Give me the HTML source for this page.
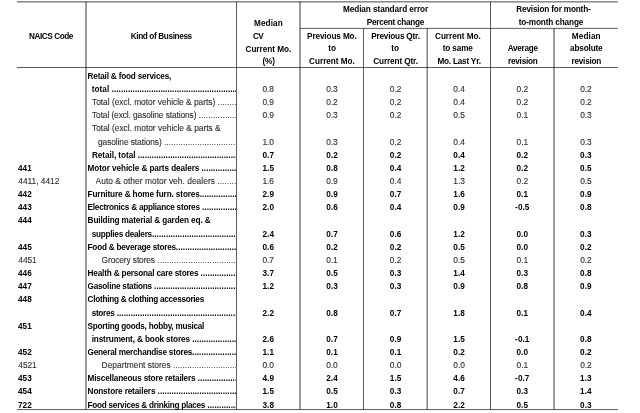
<!DOCTYPE html>
<html lang="en"><head><meta charset="utf-8"><title>Table</title>
<style>
html,body{margin:0;padding:0;background:#fff;}
body{width:640px;height:413px;position:relative;overflow:hidden;font-family:"Liberation Sans",sans-serif;color:#000;}
.t{position:absolute;white-space:nowrap;line-height:12.0px;height:12.0px;}
.b{font-weight:bold;font-size:8.2px;}
.r{font-weight:normal;font-size:8.4px;-webkit-text-stroke:0.1px #2b2b2b;}
.ld{overflow:hidden;}
.d{letter-spacing:0.05px;}
.r .d{-webkit-text-stroke:0;color:#333;}
svg{position:absolute;left:0;top:0;}
#txt{position:absolute;left:0;top:0;width:640px;height:413px;will-change:transform;}
</style></head><body>
<svg width="640" height="413" viewBox="0 0 640 413">
<line x1="16.9" y1="1.87" x2="617.8" y2="1.87" stroke="#000" stroke-width="0.72"/>
<line x1="16.9" y1="67.5" x2="617.8" y2="67.5" stroke="#000" stroke-width="0.64"/>
<line x1="16.9" y1="409.55" x2="617.8" y2="409.55" stroke="#000" stroke-width="0.64"/>
<line x1="300.0" y1="28.4" x2="617.8" y2="28.4" stroke="#000" stroke-width="0.64"/>
<line x1="86.0" y1="1.87" x2="86.0" y2="409.55" stroke="#000" stroke-width="0.8"/>
<line x1="236.5" y1="1.87" x2="236.5" y2="409.55" stroke="#000" stroke-width="0.64"/>
<line x1="300.0" y1="1.87" x2="300.0" y2="409.55" stroke="#000" stroke-width="0.8"/>
<line x1="363.5" y1="28.4" x2="363.5" y2="409.55" stroke="#000" stroke-width="0.64"/>
<line x1="427.2" y1="28.4" x2="427.2" y2="409.55" stroke="#000" stroke-width="0.72"/>
<line x1="490.5" y1="1.87" x2="490.5" y2="409.55" stroke="#000" stroke-width="0.64"/>
<line x1="554.0" y1="28.4" x2="554.0" y2="409.55" stroke="#000" stroke-width="0.8"/>
</svg>
<div id="txt">
<div class="t b" style="left:28.93px;top:31.00px;letter-spacing:-0.416px;">NAICS Code</div>
<div class="t b" style="left:130.68px;top:31.00px;letter-spacing:-0.359px;">Kind of Business</div>
<div class="t b" style="left:254.03px;top:18.00px;letter-spacing:0.114px;">Median</div>
<div class="t b" style="left:253.02px;top:31.00px;letter-spacing:-0.614px;">CV</div>
<div class="t b" style="left:245.51px;top:44.00px;letter-spacing:-0.020px;">Current Mo.</div>
<div class="t b" style="left:262.47px;top:56.00px;letter-spacing:-0.163px;">(%)</div>
<div class="t b" style="left:342.96px;top:4.00px;letter-spacing:-0.062px;">Median standard error</div>
<div class="t b" style="left:366.77px;top:17.00px;letter-spacing:-0.258px;">Percent change</div>
<div class="t b" style="left:307.09px;top:31.00px;letter-spacing:-0.117px;">Previous Mo.</div>
<div class="t b" style="left:328.13px;top:43.00px;letter-spacing:0.096px;">to</div>
<div class="t b" style="left:309.11px;top:56.00px;letter-spacing:-0.020px;">Current Mo.</div>
<div class="t b" style="left:371.19px;top:31.00px;letter-spacing:-0.186px;">Previous Qtr.</div>
<div class="t b" style="left:391.23px;top:43.00px;letter-spacing:0.096px;">to</div>
<div class="t b" style="left:373.21px;top:56.00px;letter-spacing:-0.104px;">Current Qtr.</div>
<div class="t b" style="left:435.01px;top:31.00px;letter-spacing:-0.020px;">Current Mo.</div>
<div class="t b" style="left:442.79px;top:43.00px;letter-spacing:-0.138px;">to same</div>
<div class="t b" style="left:437.39px;top:56.00px;letter-spacing:-0.204px;">Mo. Last Yr.</div>
<div class="t b" style="left:516.32px;top:4.00px;letter-spacing:-0.162px;">Revision for month-</div>
<div class="t b" style="left:518.71px;top:17.00px;letter-spacing:-0.128px;">to-month change</div>
<div class="t b" style="left:507.64px;top:43.00px;letter-spacing:-0.249px;">Average</div>
<div class="t b" style="left:507.92px;top:56.00px;letter-spacing:-0.212px;">revision</div>
<div class="t b" style="left:571.83px;top:31.00px;letter-spacing:0.114px;">Median</div>
<div class="t b" style="left:570.05px;top:43.00px;letter-spacing:-0.153px;">absolute</div>
<div class="t b" style="left:571.42px;top:56.00px;letter-spacing:-0.212px;">revision</div>
<div class="t b" style="left:87.60px;top:71.00px;letter-spacing:-0.186px;">Retail &amp; food services,</div>
<div class="t b ld" style="left:91.70px;top:84.00px;width:144.50px;"><span style="letter-spacing:0.077px">total</span> <span class="d">......................................................................</span></div>
<div class="t r" style="left:262.51px;top:83.00px;letter-spacing:-0.064px;color:#2b2b2b;">0.8</div>
<div class="t r" style="left:326.26px;top:83.00px;letter-spacing:-0.064px;color:#2b2b2b;">0.3</div>
<div class="t r" style="left:389.86px;top:83.00px;letter-spacing:-0.064px;color:#2b2b2b;">0.2</div>
<div class="t r" style="left:453.36px;top:83.00px;letter-spacing:-0.064px;color:#2b2b2b;">0.4</div>
<div class="t r" style="left:516.56px;top:83.00px;letter-spacing:-0.064px;color:#2b2b2b;">0.2</div>
<div class="t r" style="left:580.16px;top:83.00px;letter-spacing:-0.064px;color:#2b2b2b;">0.2</div>
<div class="t r ld" style="left:92.00px;top:96.00px;color:#2b2b2b;width:144.20px;"><span style="letter-spacing:-0.017px">Total (excl. motor vehicle &amp; parts)</span> <span class="d">......................................................................</span></div>
<div class="t r" style="left:262.51px;top:96.00px;letter-spacing:-0.064px;color:#2b2b2b;">0.9</div>
<div class="t r" style="left:326.26px;top:96.00px;letter-spacing:-0.064px;color:#2b2b2b;">0.2</div>
<div class="t r" style="left:389.86px;top:96.00px;letter-spacing:-0.064px;color:#2b2b2b;">0.2</div>
<div class="t r" style="left:453.36px;top:96.00px;letter-spacing:-0.064px;color:#2b2b2b;">0.4</div>
<div class="t r" style="left:516.56px;top:96.00px;letter-spacing:-0.064px;color:#2b2b2b;">0.2</div>
<div class="t r" style="left:580.16px;top:96.00px;letter-spacing:-0.064px;color:#2b2b2b;">0.2</div>
<div class="t r ld" style="left:92.00px;top:109.00px;color:#2b2b2b;width:144.20px;"><span style="letter-spacing:-0.101px">Total (excl. gasoline stations)</span> <span class="d">......................................................................</span></div>
<div class="t r" style="left:262.51px;top:109.00px;letter-spacing:-0.064px;color:#2b2b2b;">0.9</div>
<div class="t r" style="left:326.26px;top:109.00px;letter-spacing:-0.064px;color:#2b2b2b;">0.3</div>
<div class="t r" style="left:389.86px;top:109.00px;letter-spacing:-0.064px;color:#2b2b2b;">0.2</div>
<div class="t r" style="left:453.36px;top:109.00px;letter-spacing:-0.064px;color:#2b2b2b;">0.5</div>
<div class="t r" style="left:516.56px;top:109.00px;letter-spacing:-0.064px;color:#2b2b2b;">0.1</div>
<div class="t r" style="left:580.16px;top:109.00px;letter-spacing:-0.064px;color:#2b2b2b;">0.3</div>
<div class="t r" style="left:92.00px;top:122.00px;color:#2b2b2b;letter-spacing:-0.007px;">Total (excl. motor vehicle &amp; parts &amp;</div>
<div class="t r ld" style="left:98.00px;top:136.00px;color:#2b2b2b;width:138.20px;"><span style="letter-spacing:-0.087px">gasoline stations)</span> <span class="d">......................................................................</span></div>
<div class="t r" style="left:262.51px;top:136.00px;letter-spacing:-0.064px;color:#2b2b2b;">1.0</div>
<div class="t r" style="left:326.26px;top:136.00px;letter-spacing:-0.064px;color:#2b2b2b;">0.3</div>
<div class="t r" style="left:389.86px;top:136.00px;letter-spacing:-0.064px;color:#2b2b2b;">0.2</div>
<div class="t r" style="left:453.36px;top:136.00px;letter-spacing:-0.064px;color:#2b2b2b;">0.4</div>
<div class="t r" style="left:516.56px;top:136.00px;letter-spacing:-0.064px;color:#2b2b2b;">0.1</div>
<div class="t r" style="left:580.16px;top:136.00px;letter-spacing:-0.064px;color:#2b2b2b;">0.3</div>
<div class="t b ld" style="left:91.90px;top:150.00px;width:144.30px;"><span style="letter-spacing:-0.050px">Retail, total</span> <span class="d">......................................................................</span></div>
<div class="t b" style="left:262.44px;top:150.00px;letter-spacing:0.073px;">0.7</div>
<div class="t b" style="left:326.19px;top:150.00px;letter-spacing:0.073px;">0.2</div>
<div class="t b" style="left:389.79px;top:150.00px;letter-spacing:0.073px;">0.2</div>
<div class="t b" style="left:453.29px;top:150.00px;letter-spacing:0.073px;">0.4</div>
<div class="t b" style="left:516.49px;top:150.00px;letter-spacing:0.073px;">0.2</div>
<div class="t b" style="left:580.09px;top:150.00px;letter-spacing:0.073px;">0.3</div>
<div class="t b" style="left:18.00px;top:163.00px;letter-spacing:0.037px;">441</div>
<div class="t b ld" style="left:87.60px;top:163.00px;width:148.60px;"><span style="letter-spacing:-0.090px">Motor vehicle &amp; parts dealers</span> <span class="d">......................................................................</span></div>
<div class="t b" style="left:262.44px;top:163.00px;letter-spacing:0.073px;">1.5</div>
<div class="t b" style="left:326.19px;top:163.00px;letter-spacing:0.073px;">0.8</div>
<div class="t b" style="left:389.79px;top:163.00px;letter-spacing:0.073px;">0.4</div>
<div class="t b" style="left:453.29px;top:163.00px;letter-spacing:0.073px;">1.2</div>
<div class="t b" style="left:516.49px;top:163.00px;letter-spacing:0.073px;">0.2</div>
<div class="t b" style="left:580.09px;top:163.00px;letter-spacing:0.073px;">0.5</div>
<div class="t r" style="left:18.30px;top:175.00px;letter-spacing:-0.033px;color:#2b2b2b;">4411, 4412</div>
<div class="t r ld" style="left:95.60px;top:175.00px;color:#2b2b2b;width:140.60px;"><span style="letter-spacing:0.036px">Auto &amp; other motor veh. dealers</span> <span class="d">......................................................................</span></div>
<div class="t r" style="left:262.51px;top:175.00px;letter-spacing:-0.064px;color:#2b2b2b;">1.6</div>
<div class="t r" style="left:326.26px;top:175.00px;letter-spacing:-0.064px;color:#2b2b2b;">0.9</div>
<div class="t r" style="left:389.86px;top:175.00px;letter-spacing:-0.064px;color:#2b2b2b;">0.4</div>
<div class="t r" style="left:453.36px;top:175.00px;letter-spacing:-0.064px;color:#2b2b2b;">1.3</div>
<div class="t r" style="left:516.56px;top:175.00px;letter-spacing:-0.064px;color:#2b2b2b;">0.2</div>
<div class="t r" style="left:580.16px;top:175.00px;letter-spacing:-0.064px;color:#2b2b2b;">0.5</div>
<div class="t b" style="left:18.00px;top:189.00px;letter-spacing:0.037px;">442</div>
<div class="t b ld" style="left:87.60px;top:189.00px;width:148.60px;"><span style="letter-spacing:-0.117px">Furniture &amp; home furn. stores</span><span class="d">......................................................................</span></div>
<div class="t b" style="left:262.44px;top:189.00px;letter-spacing:0.073px;">2.9</div>
<div class="t b" style="left:326.19px;top:189.00px;letter-spacing:0.073px;">0.9</div>
<div class="t b" style="left:389.79px;top:189.00px;letter-spacing:0.073px;">0.7</div>
<div class="t b" style="left:453.29px;top:189.00px;letter-spacing:0.073px;">1.6</div>
<div class="t b" style="left:516.49px;top:189.00px;letter-spacing:0.073px;">0.1</div>
<div class="t b" style="left:580.09px;top:189.00px;letter-spacing:0.073px;">0.9</div>
<div class="t b" style="left:18.00px;top:202.00px;letter-spacing:0.037px;">443</div>
<div class="t b ld" style="left:87.60px;top:202.00px;width:148.60px;"><span style="letter-spacing:-0.236px">Electronics &amp; appliance stores</span> <span class="d">......................................................................</span></div>
<div class="t b" style="left:262.44px;top:202.00px;letter-spacing:0.073px;">2.0</div>
<div class="t b" style="left:326.19px;top:202.00px;letter-spacing:0.073px;">0.6</div>
<div class="t b" style="left:389.79px;top:202.00px;letter-spacing:0.073px;">0.4</div>
<div class="t b" style="left:453.29px;top:202.00px;letter-spacing:0.073px;">0.9</div>
<div class="t b" style="left:515.10px;top:202.00px;letter-spacing:0.066px;">-0.5</div>
<div class="t b" style="left:580.09px;top:202.00px;letter-spacing:0.073px;">0.8</div>
<div class="t b" style="left:18.00px;top:215.00px;letter-spacing:0.037px;">444</div>
<div class="t b" style="left:87.60px;top:215.00px;letter-spacing:-0.111px;">Building material &amp; garden eq. &amp;</div>
<div class="t b ld" style="left:91.70px;top:229.00px;width:144.50px;"><span style="letter-spacing:-0.245px">supplies dealers</span><span class="d">......................................................................</span></div>
<div class="t b" style="left:262.44px;top:229.00px;letter-spacing:0.073px;">2.4</div>
<div class="t b" style="left:326.19px;top:229.00px;letter-spacing:0.073px;">0.7</div>
<div class="t b" style="left:389.79px;top:229.00px;letter-spacing:0.073px;">0.6</div>
<div class="t b" style="left:453.29px;top:229.00px;letter-spacing:0.073px;">1.2</div>
<div class="t b" style="left:516.49px;top:229.00px;letter-spacing:0.073px;">0.0</div>
<div class="t b" style="left:580.09px;top:229.00px;letter-spacing:0.073px;">0.3</div>
<div class="t b" style="left:18.00px;top:242.00px;letter-spacing:0.037px;">445</div>
<div class="t b ld" style="left:87.60px;top:242.00px;width:148.60px;"><span style="letter-spacing:-0.228px">Food &amp; beverage stores</span><span class="d">......................................................................</span></div>
<div class="t b" style="left:262.44px;top:242.00px;letter-spacing:0.073px;">0.6</div>
<div class="t b" style="left:326.19px;top:242.00px;letter-spacing:0.073px;">0.2</div>
<div class="t b" style="left:389.79px;top:242.00px;letter-spacing:0.073px;">0.2</div>
<div class="t b" style="left:453.29px;top:242.00px;letter-spacing:0.073px;">0.5</div>
<div class="t b" style="left:516.49px;top:242.00px;letter-spacing:0.073px;">0.0</div>
<div class="t b" style="left:580.09px;top:242.00px;letter-spacing:0.073px;">0.2</div>
<div class="t r" style="left:18.30px;top:254.00px;letter-spacing:-0.074px;color:#2b2b2b;">4451</div>
<div class="t r ld" style="left:101.60px;top:254.00px;color:#2b2b2b;width:134.60px;"><span style="letter-spacing:-0.112px">Grocery stores</span> <span class="d">......................................................................</span></div>
<div class="t r" style="left:262.51px;top:254.00px;letter-spacing:-0.064px;color:#2b2b2b;">0.7</div>
<div class="t r" style="left:326.26px;top:254.00px;letter-spacing:-0.064px;color:#2b2b2b;">0.1</div>
<div class="t r" style="left:389.86px;top:254.00px;letter-spacing:-0.064px;color:#2b2b2b;">0.2</div>
<div class="t r" style="left:453.36px;top:254.00px;letter-spacing:-0.064px;color:#2b2b2b;">0.5</div>
<div class="t r" style="left:516.56px;top:254.00px;letter-spacing:-0.064px;color:#2b2b2b;">0.1</div>
<div class="t r" style="left:580.16px;top:254.00px;letter-spacing:-0.064px;color:#2b2b2b;">0.2</div>
<div class="t b" style="left:18.00px;top:268.00px;letter-spacing:0.037px;">446</div>
<div class="t b ld" style="left:87.60px;top:268.00px;width:148.60px;"><span style="letter-spacing:-0.168px">Health &amp; personal care stores</span> <span class="d">......................................................................</span></div>
<div class="t b" style="left:262.44px;top:268.00px;letter-spacing:0.073px;">3.7</div>
<div class="t b" style="left:326.19px;top:268.00px;letter-spacing:0.073px;">0.5</div>
<div class="t b" style="left:389.79px;top:268.00px;letter-spacing:0.073px;">0.3</div>
<div class="t b" style="left:453.29px;top:268.00px;letter-spacing:0.073px;">1.4</div>
<div class="t b" style="left:516.49px;top:268.00px;letter-spacing:0.073px;">0.3</div>
<div class="t b" style="left:580.09px;top:268.00px;letter-spacing:0.073px;">0.8</div>
<div class="t b" style="left:18.00px;top:281.00px;letter-spacing:0.037px;">447</div>
<div class="t b ld" style="left:87.60px;top:281.00px;width:148.60px;"><span style="letter-spacing:-0.237px">Gasoline stations</span> <span class="d">......................................................................</span></div>
<div class="t b" style="left:262.44px;top:281.00px;letter-spacing:0.073px;">1.2</div>
<div class="t b" style="left:326.19px;top:281.00px;letter-spacing:0.073px;">0.3</div>
<div class="t b" style="left:389.79px;top:281.00px;letter-spacing:0.073px;">0.3</div>
<div class="t b" style="left:453.29px;top:281.00px;letter-spacing:0.073px;">0.9</div>
<div class="t b" style="left:516.49px;top:281.00px;letter-spacing:0.073px;">0.8</div>
<div class="t b" style="left:580.09px;top:281.00px;letter-spacing:0.073px;">0.9</div>
<div class="t b" style="left:18.00px;top:294.00px;letter-spacing:0.037px;">448</div>
<div class="t b" style="left:87.60px;top:294.00px;letter-spacing:-0.268px;">Clothing &amp; clothing accessories</div>
<div class="t b ld" style="left:91.70px;top:308.00px;width:144.50px;"><span style="letter-spacing:-0.310px">stores</span> <span class="d">......................................................................</span></div>
<div class="t b" style="left:262.44px;top:308.00px;letter-spacing:0.073px;">2.2</div>
<div class="t b" style="left:326.19px;top:308.00px;letter-spacing:0.073px;">0.8</div>
<div class="t b" style="left:389.79px;top:308.00px;letter-spacing:0.073px;">0.7</div>
<div class="t b" style="left:453.29px;top:308.00px;letter-spacing:0.073px;">1.8</div>
<div class="t b" style="left:516.49px;top:308.00px;letter-spacing:0.073px;">0.1</div>
<div class="t b" style="left:580.09px;top:308.00px;letter-spacing:0.073px;">0.4</div>
<div class="t b" style="left:18.00px;top:321.00px;letter-spacing:0.037px;">451</div>
<div class="t b" style="left:87.60px;top:321.00px;letter-spacing:-0.250px;">Sporting goods, hobby, musical</div>
<div class="t b ld" style="left:91.70px;top:334.00px;width:144.50px;"><span style="letter-spacing:-0.131px">instrument, &amp; book stores</span> <span class="d">......................................................................</span></div>
<div class="t b" style="left:262.44px;top:334.00px;letter-spacing:0.073px;">2.6</div>
<div class="t b" style="left:326.19px;top:334.00px;letter-spacing:0.073px;">0.7</div>
<div class="t b" style="left:389.79px;top:334.00px;letter-spacing:0.073px;">0.9</div>
<div class="t b" style="left:453.29px;top:334.00px;letter-spacing:0.073px;">1.5</div>
<div class="t b" style="left:515.10px;top:334.00px;letter-spacing:0.066px;">-0.1</div>
<div class="t b" style="left:580.09px;top:334.00px;letter-spacing:0.073px;">0.8</div>
<div class="t b" style="left:18.00px;top:347.00px;letter-spacing:0.037px;">452</div>
<div class="t b ld" style="left:87.60px;top:347.00px;width:148.60px;"><span style="letter-spacing:-0.216px">General merchandise stores</span><span class="d">......................................................................</span></div>
<div class="t b" style="left:262.44px;top:347.00px;letter-spacing:0.073px;">1.1</div>
<div class="t b" style="left:326.19px;top:347.00px;letter-spacing:0.073px;">0.1</div>
<div class="t b" style="left:389.79px;top:347.00px;letter-spacing:0.073px;">0.1</div>
<div class="t b" style="left:453.29px;top:347.00px;letter-spacing:0.073px;">0.2</div>
<div class="t b" style="left:516.49px;top:347.00px;letter-spacing:0.073px;">0.0</div>
<div class="t b" style="left:580.09px;top:347.00px;letter-spacing:0.073px;">0.2</div>
<div class="t r" style="left:18.30px;top:359.00px;letter-spacing:-0.074px;color:#2b2b2b;">4521</div>
<div class="t r ld" style="left:101.60px;top:359.00px;color:#2b2b2b;width:134.60px;"><span style="letter-spacing:0.007px">Department stores</span> <span class="d">......................................................................</span></div>
<div class="t r" style="left:262.51px;top:359.00px;letter-spacing:-0.064px;color:#2b2b2b;">0.0</div>
<div class="t r" style="left:326.26px;top:359.00px;letter-spacing:-0.064px;color:#2b2b2b;">0.0</div>
<div class="t r" style="left:389.86px;top:359.00px;letter-spacing:-0.064px;color:#2b2b2b;">0.0</div>
<div class="t r" style="left:453.36px;top:359.00px;letter-spacing:-0.064px;color:#2b2b2b;">0.0</div>
<div class="t r" style="left:516.56px;top:359.00px;letter-spacing:-0.064px;color:#2b2b2b;">0.1</div>
<div class="t r" style="left:580.16px;top:359.00px;letter-spacing:-0.064px;color:#2b2b2b;">0.2</div>
<div class="t b" style="left:18.00px;top:373.00px;letter-spacing:0.037px;">453</div>
<div class="t b ld" style="left:87.60px;top:373.00px;width:148.60px;"><span style="letter-spacing:-0.157px">Miscellaneous store retailers</span> <span class="d">......................................................................</span></div>
<div class="t b" style="left:262.44px;top:373.00px;letter-spacing:0.073px;">4.9</div>
<div class="t b" style="left:326.19px;top:373.00px;letter-spacing:0.073px;">2.4</div>
<div class="t b" style="left:389.79px;top:373.00px;letter-spacing:0.073px;">1.5</div>
<div class="t b" style="left:453.29px;top:373.00px;letter-spacing:0.073px;">4.6</div>
<div class="t b" style="left:515.10px;top:373.00px;letter-spacing:0.066px;">-0.7</div>
<div class="t b" style="left:580.09px;top:373.00px;letter-spacing:0.073px;">1.3</div>
<div class="t b" style="left:18.00px;top:386.00px;letter-spacing:0.037px;">454</div>
<div class="t b ld" style="left:87.60px;top:386.00px;width:148.60px;"><span style="letter-spacing:-0.131px">Nonstore retailers</span> <span class="d">......................................................................</span></div>
<div class="t b" style="left:262.44px;top:386.00px;letter-spacing:0.073px;">1.5</div>
<div class="t b" style="left:326.19px;top:386.00px;letter-spacing:0.073px;">0.5</div>
<div class="t b" style="left:389.79px;top:386.00px;letter-spacing:0.073px;">0.3</div>
<div class="t b" style="left:453.29px;top:386.00px;letter-spacing:0.073px;">0.7</div>
<div class="t b" style="left:516.49px;top:386.00px;letter-spacing:0.073px;">0.3</div>
<div class="t b" style="left:580.09px;top:386.00px;letter-spacing:0.073px;">1.4</div>
<div class="t b" style="left:18.00px;top:400.00px;letter-spacing:0.037px;">722</div>
<div class="t b ld" style="left:87.60px;top:400.00px;width:148.60px;"><span style="letter-spacing:-0.259px">Food services &amp; drinking places</span> <span class="d">......................................................................</span></div>
<div class="t b" style="left:262.44px;top:400.00px;letter-spacing:0.073px;">3.8</div>
<div class="t b" style="left:326.19px;top:400.00px;letter-spacing:0.073px;">1.0</div>
<div class="t b" style="left:389.79px;top:400.00px;letter-spacing:0.073px;">0.8</div>
<div class="t b" style="left:453.29px;top:400.00px;letter-spacing:0.073px;">2.2</div>
<div class="t b" style="left:516.49px;top:400.00px;letter-spacing:0.073px;">0.5</div>
<div class="t b" style="left:580.09px;top:400.00px;letter-spacing:0.073px;">0.3</div>
</div>
</body></html>
